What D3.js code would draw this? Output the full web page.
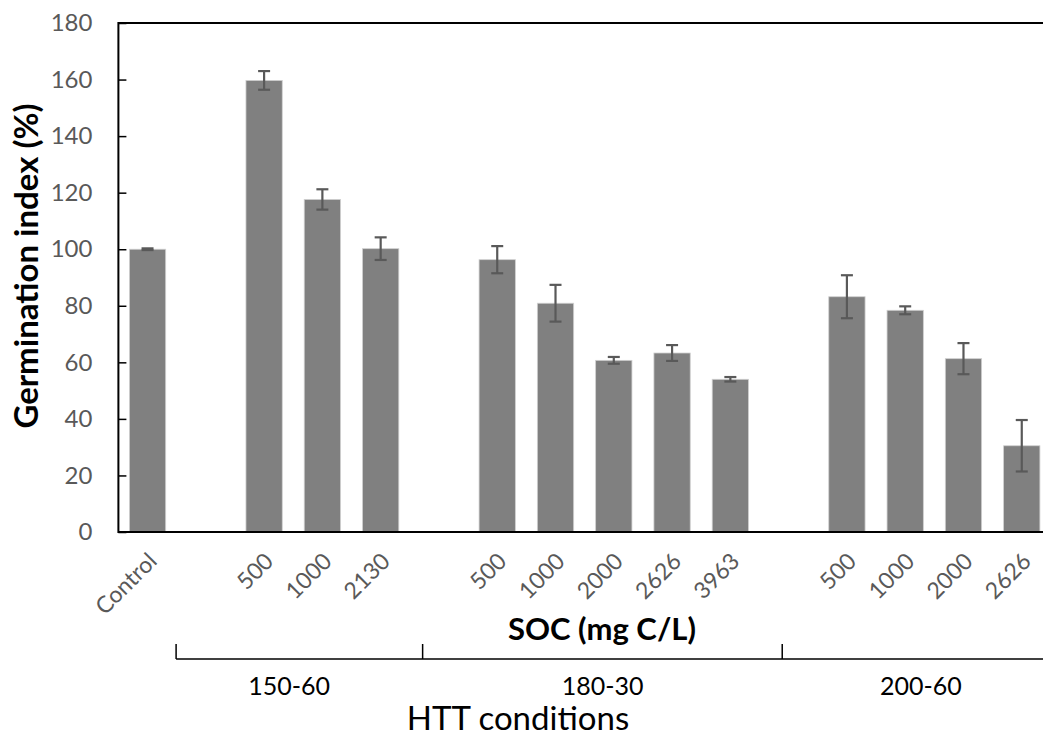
<!DOCTYPE html>
<html>
<head>
<meta charset="utf-8">
<script src="https://cdn.jsdelivr.net/npm/d3@7"></script>
<style>
  html, body { margin: 0; padding: 0; background: #fff; }
  svg { display: block; }
  text { font-family: Lato, "Open Sans", sans-serif; }
</style>
</head>
<body>
<svg id="chart" width="1043" height="736"></svg>
<script>
// ---- data ----
const slotLabels = ["Control", "", "500", "1000", "2130", "", "500", "1000", "2000", "2626", "3963", "", "500", "1000", "2000", "2626"];
const values     = [100, null, 159.7, 117.6, 100.2, null, 96.3, 80.9, 60.7, 63.3, 54.0, null, 83.2, 78.4, 61.3, 30.5];
const errors     = [0.3, null, 3.3, 3.6, 4.0, null, 4.8, 6.5, 1.2, 2.8, 0.8, null, 7.6, 1.4, 5.5, 9.1];
const yTicks     = [0, 20, 40, 60, 80, 100, 120, 140, 160, 180];
const groupNames = ["150-60", "180-30", "200-60"];
const groupLabelPos = [2.93, 8.31, 13.77];      // in slot units
const bracketTicks  = [0.99, 5.22, 11.39];      // in slot units

// ---- layout ----
const svg = d3.select("#chart");
const pLeft = 118.4, pRight = 1050.9, pTop = 23, pBottom = 532;
const keys = slotLabels.map((d, i) => i);

const x = d3.scaleBand().domain(keys).range([pLeft, pRight]).paddingInner(0.377).paddingOuter(0.1885);
const slotX = d3.scaleLinear().domain([0, slotLabels.length]).range([pLeft, pRight]);
const y = d3.scaleLinear().domain([0, 180]).range([pBottom, pTop]);

// bars
const data = keys.filter(i => values[i] !== null).map(i => ({i, v: values[i], e: errors[i]}));
svg.append("g").selectAll("rect").data(data).join("rect")
  .attr("x", d => x(d.i)).attr("y", d => y(d.v))
  .attr("width", x.bandwidth()).attr("height", d => y(0) - y(d.v))
  .attr("fill", "#808080").attr("stroke", "#d0d0d0").attr("stroke-width", 0.8);

// error bars
const eb = svg.append("g").attr("stroke", "#595959").attr("stroke-width", 2.2);
data.forEach(d => {
  const cx = x(d.i) + x.bandwidth() / 2;
  eb.append("line").attr("x1", cx).attr("x2", cx).attr("y1", y(d.v + d.e)).attr("y2", y(d.v - d.e));
  [d.v + d.e, d.v - d.e].forEach(v => {
    eb.append("line").attr("x1", cx - 6).attr("x2", cx + 6).attr("y1", y(v)).attr("y2", y(v));
  });
});

// plot frame (left, top, bottom)
svg.append("path")
  .attr("d", `M${pRight + 10},${pTop}H${pLeft}V${pBottom}H${pRight + 10}`)
  .attr("fill", "none").attr("stroke", "#000").attr("stroke-width", 2);

// y axis ticks (inward) and labels
const yAxis = d3.axisLeft(y).tickValues(yTicks).tickSize(-8).tickPadding(26);
const ya = svg.append("g").attr("transform", `translate(${pLeft},0)`).call(yAxis);
ya.select(".domain").remove();
ya.selectAll(".tick line").attr("stroke", "#000").attr("stroke-width", 1.5);
ya.selectAll(".tick text").attr("fill", "#595959").style("font-size", "24px").style("font-family", "Lato, sans-serif");

// x category labels (rotated)
svg.append("g").selectAll("text").data(keys.filter(i => slotLabels[i] !== "")).join("text")
  .attr("transform", i => `translate(${x(i) + x.bandwidth() / 2 + 5},${pBottom + 25}) rotate(-45)`)
  .attr("text-anchor", "end").attr("dy", "0.35em")
  .attr("fill", "#595959").style("font-size", "23px")
  .text(i => slotLabels[i]);

// SOC title
svg.append("text").attr("x", 602).attr("y", 640).attr("text-anchor", "middle")
  .style("font-size", "31px").style("font-weight", "bold").attr("fill", "#000")
  .text("SOC (mg C/L)");

// y title
svg.append("text").attr("transform", `translate(38,${266}) rotate(-90)`)
  .attr("text-anchor", "middle")
  .style("font-size", "33px").style("font-weight", "bold").attr("fill", "#000")
  .text("Germination index (%)");

// group bracket
const bracketY = 659;
svg.append("line").attr("x1", slotX(bracketTicks[0])).attr("x2", 1043).attr("y1", bracketY).attr("y2", bracketY)
  .attr("stroke", "#000").attr("stroke-width", 1.5);
svg.append("g").selectAll("line").data(bracketTicks).join("line")
  .attr("x1", d => slotX(d)).attr("x2", d => slotX(d)).attr("y1", bracketY - 15).attr("y2", bracketY)
  .attr("stroke", "#000").attr("stroke-width", 1.5);
svg.append("g").selectAll("text").data(groupNames).join("text")
  .attr("x", (d, k) => slotX(groupLabelPos[k])).attr("y", 695)
  .attr("text-anchor", "middle").style("font-size", "25px").attr("fill", "#000")
  .text(d => d);

// HTT title
svg.append("text").attr("x", 518).attr("y", 730).attr("text-anchor", "middle")
  .style("font-size", "33px").attr("fill", "#000")
  .text("HTT conditions");
</script>
</body>
</html>
